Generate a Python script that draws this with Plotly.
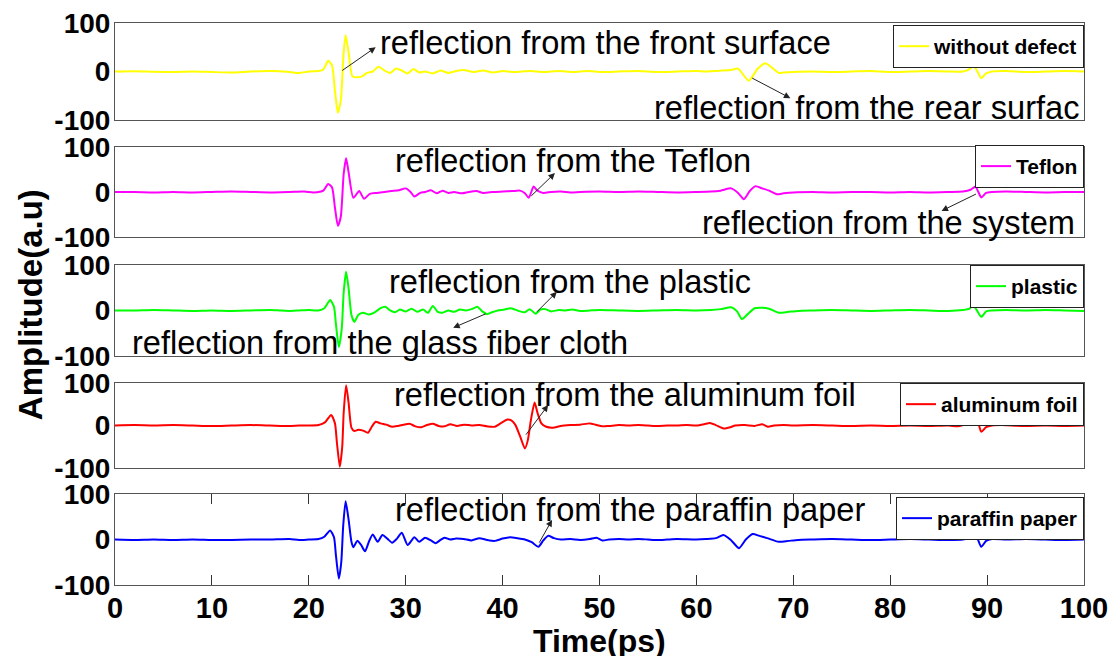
import plotly.graph_objects as go
from plotly.subplots import make_subplots

# ---- waveform samples (time in ps, amplitude in a.u.) ----
t_without = [0, 2, 4, 6, 8, 10, 12, 14, 16, 18, 19, 20, 21, 21.5, 22, 22.4, 22.7, 23.0, 23.3, 23.6, 23.8, 24.1,
             24.5, 25.0, 25.5, 26.0, 26.6, 27.2, 27.8, 28.4, 29.0, 29.6, 30.2, 30.8, 31.4, 32.0, 32.8, 33.6, 34.4,
             35.2, 36.0, 37.0, 38.0, 39.0, 40.0, 41.0, 42.0, 43.0, 44, 45, 46, 47, 48, 49, 50, 52, 54, 56, 58, 60,
             61, 62, 63.5, 64.3, 65.4, 66.3, 67.1, 67.8, 68.5, 69, 70, 72, 74, 76, 78, 80, 82, 84, 86, 87.5, 88.2,
             88.6, 89.0, 89.4, 89.9, 90.5, 92, 94, 96, 98, 100]
a_without = [0, 0.5, -0.5, -1, 0, -1, -2, 0, 1, -1, -3, 0, 1, 4, 22, 12, -40, -85, -60, 40, 75, 40,
             -10, -12, -10, -3, 0, 10, 2, -3, 6, 2, -4, 5, -2, 0, -4, 2, -3,
             1, 3, -1, 2, -2, 1, -1, 0, 1, -1, 0, 1, -1, 0, 1, -1, 0, 1, -1, 0, 1,
             0, 1, 3, 6, -19, 5, 17, 8, -3, -2, -1, 0, -1, 0, 1, -1, 0, 1, 0, 0, 5,
             12, 0, -14, -4, 0, 1, -1, 0, 1, 0]

t_teflon = [0, 2, 4, 6, 8, 10, 12, 14, 16, 18, 19.5, 20.5, 21.5, 22.0, 22.4, 22.7, 23.0, 23.3, 23.6, 23.85, 24.1,
            24.6, 25.2, 25.7, 26.3, 27, 27.8, 28.5, 29.3, 30, 30.5, 30.9, 31.5, 32, 32.6, 33.2, 33.8, 34.4, 35,
            35.8, 36.5, 37.3, 38, 39, 40, 41, 41.8, 42.3, 42.7, 43.2, 43.6, 44.2, 45, 46, 47, 48, 50, 52, 54, 56,
            58, 60, 61.5, 62.5, 63.6, 64.3, 64.9, 65.5, 66.1, 66.8, 67.5, 68.3, 69, 70, 72, 74, 76, 78, 80, 82,
            84, 86, 87.5, 88.3, 88.8, 89.1, 89.4, 89.9, 90.5, 92, 94, 96, 98, 100]
a_teflon = [0, 0, -1, 0, -1, 0, 1, 0, -1, 0, 1, -1, 3, 18, 10, -35, -75, -55, 40, 75, 45,
            -13, 2, -15, -4, -2, 0, 2, 4, 8, 0, -10, -2, 0, 4, -3, 3, -2, 0,
            -3, 0, 2, -2, 0, 1, 2, 3, -3, -13, 12, 3, -2, 0, 1, -1, 0, 1, 0, 1, 0,
            -1, 0, 1, 3, 8, -2, -16, 2, 13, 8, 3, -5, -3, -1, 0, -1, 0, 0, -1, 0,
            -1, 0, 1, 5, 12, 0, -12, -2, 0, 1, 0, -1, 0, 0]

t_plastic = [0, 2, 4, 6, 8, 10, 12, 14, 16, 17, 18, 19, 20, 21, 21.6, 22.2, 22.6, 22.8, 23.1, 23.4, 23.6, 23.85,
             24.1, 24.4, 24.7, 25.1, 25.6, 26.2, 26.8, 27.4, 27.9, 28.4, 28.9, 29.4, 30, 30.6, 31.2, 31.8, 32.3,
             32.8, 33.3, 33.8, 34.4, 35, 35.6, 36.2, 36.8, 37.4, 37.9, 38.4, 38.9, 39.5, 40.2, 40.8, 41.3, 41.8,
             42.3, 42.8, 43.4, 43.9, 44.4, 45, 45.8, 46.5, 47.2, 48, 49, 50, 52, 54, 56, 58, 60, 61.5, 62.5, 63.6,
             64.2, 64.7, 65.3, 66.0, 66.8, 67.5, 68.5, 69.5, 70.5, 72, 74, 76, 78, 80, 82, 84, 86, 87.5, 88.2,
             88.5, 88.9, 89.4, 89.9, 90.5, 92, 94, 96, 98, 100]
a_plastic = [0, 0, 1, 0, -1, 0, -1, 0, 1, 0, -1, 0, 1, 0, 5, 23, 8, -30, -80, -40, 40, 85,
             50, -10, -25, -10, -5, -9, -4, 5, 8, 0, -4, 2, -2, 4, -3, 2, -5,
             10, -3, -5, 0, -3, 2, 0, 3, 8, -2, -8, -4, 0, 2, 5, 2, -2,
             -4, 3, -7, 2, 3, -2, 1, 0, 2, -1, 0, 1, 0, -1, 0, 1, 0, 1, 3, 7,
             -2, -19, -8, 5, 6, 4, -5, -3, -1, 0, 1, 0, -1, 0, 1, 0, -1, 1, 4,
             12, 2, -14, -2, 0, 1, 0, 1, 0, -1]

t_alfoil = [0, 2, 4, 6, 8, 10, 12, 14, 16, 18, 19, 20, 21, 21.7, 22.3, 22.7, 22.9, 23.2, 23.45, 23.6, 23.85, 24.1,
            24.4, 24.7, 25.1, 25.6, 26.1, 26.5, 26.9, 27.4, 28, 28.6, 29.2, 29.8, 30.4, 31, 31.6, 32.2, 32.8,
            33.4, 34, 34.6, 35.3, 36, 36.8, 37.6, 38.4, 39.2, 39.8, 40.5, 40.9, 41.3, 41.8, 42.3, 42.6, 42.9,
            43.3, 43.6, 44, 44.5, 45.2, 46, 47, 48, 49, 49.6, 50.3, 51, 52, 53, 54, 55, 56, 57, 58, 59, 60, 60.8,
            61.4, 62, 62.8, 63.5, 64, 65, 66, 66.8, 67.4, 68, 69, 70, 72, 74, 76, 78, 80, 82, 84, 86, 87, 87.8,
            88.4, 88.8, 89.1, 89.4, 89.9, 90.5, 91.5, 92.5, 94, 96, 98, 100]
a_alfoil = [0, 1, 0, 1, 0, -1, 0, 1, 0, -1, 0, 0, 1, 8, 25, 5, -40, -97, -50, 30, 95, 55,
            -5, -13, -10, -12, -17, -3, 9, 5, 2, -3, -1, 2, 4, -2, -4, 1, 4,
            -1, -2, 3, -1, 2, 0, 1, -2, -3, 5, 14, 12, 2, -25, -54, -35, 10,
            54, 30, 5, -3, -5, -1, 1, 2, 5, 2, -2, -1, 1, 0, 1, 0, -1, 0, 0, 1, 0, 3,
            6, 1, -7, -4, 0, 1, -1, 3, -3, 0, 1, 0, 1, 0, -1, 0, -1, 0, -1, 0, -2, 3,
            5, 17, 5, -15, -4, 0, 1, 0, -1, 0, -1, 0]

t_paraffin = [0, 2, 4, 6, 8, 10, 12, 14, 16, 18, 19, 20, 21, 21.6, 22.2, 22.6, 22.8, 23.1, 23.35, 23.55, 23.8,
              24.1, 24.4, 24.6, 25.0, 25.4, 25.8, 26.2, 26.6, 27.1, 27.6, 28.1, 28.6, 29.1, 29.6, 30.2, 30.9,
              31.4, 32.0, 32.6, 33.1, 33.6, 34.0, 34.6, 35.2, 36, 36.8, 37.6, 38.4, 39.2, 40, 40.8, 41.5, 42.3,
              43, 43.7, 44.2, 44.7, 45.3, 46, 47, 48, 49, 49.7, 50.3, 51, 52, 53, 54, 55, 56, 57, 58, 60, 61, 62,
              62.8, 63.6, 64.4, 65.1, 65.8, 66.5, 67.3, 68.5, 69.5, 70.5, 72, 74, 76, 78, 80, 82, 84, 86, 87.5,
              88.3, 88.7, 89.0, 89.4, 89.9, 90.5, 92, 94, 96, 98, 100]
a_paraffin = [0, -1, 0, -1, 0, -1, -1, 0, 0, 1, -1, 0, 1, 6, 20, 5, -35, -86, -50, 30, 84,
              45, -5, -17, -3, -12, -26, -5, 11, -5, 10, 2, -7, 2, 15, -12, 5,
              -5, 4, -2, -8, -1, 4, 0, 2, 1, -2, 3, -1, -3, 2, 5, 3, 0,
              -6, -16, -2, 8, 3, 0, 1, -1, 1, 4, -2, 0, 1, 0, 1, 0, -1, 0, 1, 0, 1, 3,
              10, -2, -19, 0, 12, 8, 3, -5, -3, -1, 0, 1, 0, -1, 0, 1, 0, -1, 0,
              5, 15, 3, -16, -3, 1, 0, 1, 0, -1, 0]

series_names = ["without defect", "Teflon", "plastic", "aluminum foil", "paraffin paper"]
series_colors = ["#FFFF00", "#FF00FF", "#00FF00", "#FF0000", "#0000FF"]
series_t = [t_without, t_teflon, t_plastic, t_alfoil, t_paraffin]
series_a = [a_without, a_teflon, a_plastic, a_alfoil, a_paraffin]

x_ticks = [0, 10, 20, 30, 40, 50, 60, 70, 80, 90, 100]
y_ticks = [-100, 0, 100]
y_tick_text = ["-100", "0", "100"]

# panel vertical extents (paper fractions) and legend tops
panel_domains = [[0.8274, 1.0], [0.6192, 0.7794], [0.4075, 0.5694], [0.2082, 0.3594], [0.0, 0.1619]]
legend_tops = [0.9964, 0.7830, 0.5694, 0.3594, 0.1566]

FONT = "Liberation Sans, Arial, sans-serif"

fig = make_subplots(rows=5, cols=1)

for i in range(5):
    leg = "legend" if i == 0 else f"legend{i + 1}"
    fig.add_trace(go.Scatter(x=series_t[i], y=series_a[i], mode="lines", name=series_names[i],
                             line=dict(color=series_colors[i], width=2, shape="spline", smoothing=0.6),
                             legend=leg), row=i + 1, col=1)

legends = {}
for i in range(5):
    key = "legend" if i == 0 else f"legend{i + 1}"
    legends[key] = dict(x=1.0, xanchor="right", y=legend_tops[i], yanchor="top",
                        bgcolor="white", bordercolor="#222222", borderwidth=1,
                        font=dict(family=FONT, size=21, color="black", weight="bold"),
                        tracegroupgap=0, itemwidth=30)
fig.update_layout(**legends)

for i in range(5):
    xa = "xaxis" if i == 0 else f"xaxis{i + 1}"
    ya = "yaxis" if i == 0 else f"yaxis{i + 1}"
    bottom = (i == 4)
    fig.layout[xa].update(range=[0, 100], showgrid=False, zeroline=False, showline=True, automargin=False,
                          mirror="ticks" if bottom else True, linecolor="#555555", linewidth=1,
                          tickvals=x_ticks if bottom else [], ticks="inside" if bottom else "",
                          ticklen=10, tickcolor="#333333", showticklabels=bottom, ticklabelstandoff=-3,
                          tickfont=dict(family=FONT, size=29, color="black", weight="bold"))
    fig.layout[ya].update(range=[-100, 100], domain=panel_domains[i], showgrid=False, zeroline=False,
                          showline=True, mirror=True, linecolor="#555555", linewidth=1, automargin=False,
                          tickvals=y_ticks, ticktext=y_tick_text, ticks="", ticklen=0, ticklabelstandoff=-2,
                          tickfont=dict(family=FONT, size=28, color="black", weight="bold"))

# callout labels: (panel, text, text_x, text_y, arrow head x, y, arrow tail x, y)
callouts = [
    (1, "reflection from the front surface", 27.1, 60, 26.9, 50, 23.3, 0),
    (1, "reflection from the rear surfac", 55.4, -75, 69.7, -55, 65.6, -12),
    (2, "reflection from the Teflon", 28.7, 71, 45.4, 42, 42.8, -12),
    (2, "reflection from the system", 60.4, -67, 85.3, -42, 89.0, -3),
    (3, "reflection from the plastic", 28.1, 63, 45.6, 41, 43.4, -6),
    (3, "reflection from the glass fiber cloth", 1.5, -71, 34.9, -38, 38.4, -6),
    (4, "reflection from the aluminum foil", 28.6, 72, 44.7, 48, 42.3, -25),
    (5, "reflection from the paraffin paper", 28.7, 67, 45.1, 43, 43.7, -10),
]
for panel, text, tx, ty, hx, hy, sx, sy in callouts:
    xr = "x" if panel == 1 else f"x{panel}"
    yr = "y" if panel == 1 else f"y{panel}"
    fig.add_annotation(x=tx, y=ty, xref=xr, yref=yr, text=text, showarrow=False,
                       xanchor="left", yanchor="middle",
                       font=dict(family=FONT, size=32.6, color="black"))
    fig.add_annotation(x=hx, y=hy, xref=xr, yref=yr, ax=sx, ay=sy, axref=xr, ayref=yr,
                       text="", showarrow=True, arrowhead=2, arrowsize=1.3, arrowwidth=1,
                       arrowcolor="#222222", standoff=0, startstandoff=0)

# axis titles
fig.add_annotation(x=-0.0877, y=0.498, xref="paper", yref="paper", text="Amplitude(a.u)",
                   textangle=-90, showarrow=False, xanchor="center", yanchor="middle",
                   font=dict(family=FONT, size=33, color="black", weight="bold"))
fig.add_annotation(x=0.5005, y=-0.099, xref="paper", yref="paper", text="Time(ps)",
                   showarrow=False, xanchor="center", yanchor="middle",
                   font=dict(family=FONT, size=32, color="black", weight="bold"))

fig.update_layout(width=1116, height=656, margin=dict(l=115, r=32, t=23, b=71, autoexpand=False),
                  paper_bgcolor="white", plot_bgcolor="white", showlegend=True)

fig.write_html("out.html")
